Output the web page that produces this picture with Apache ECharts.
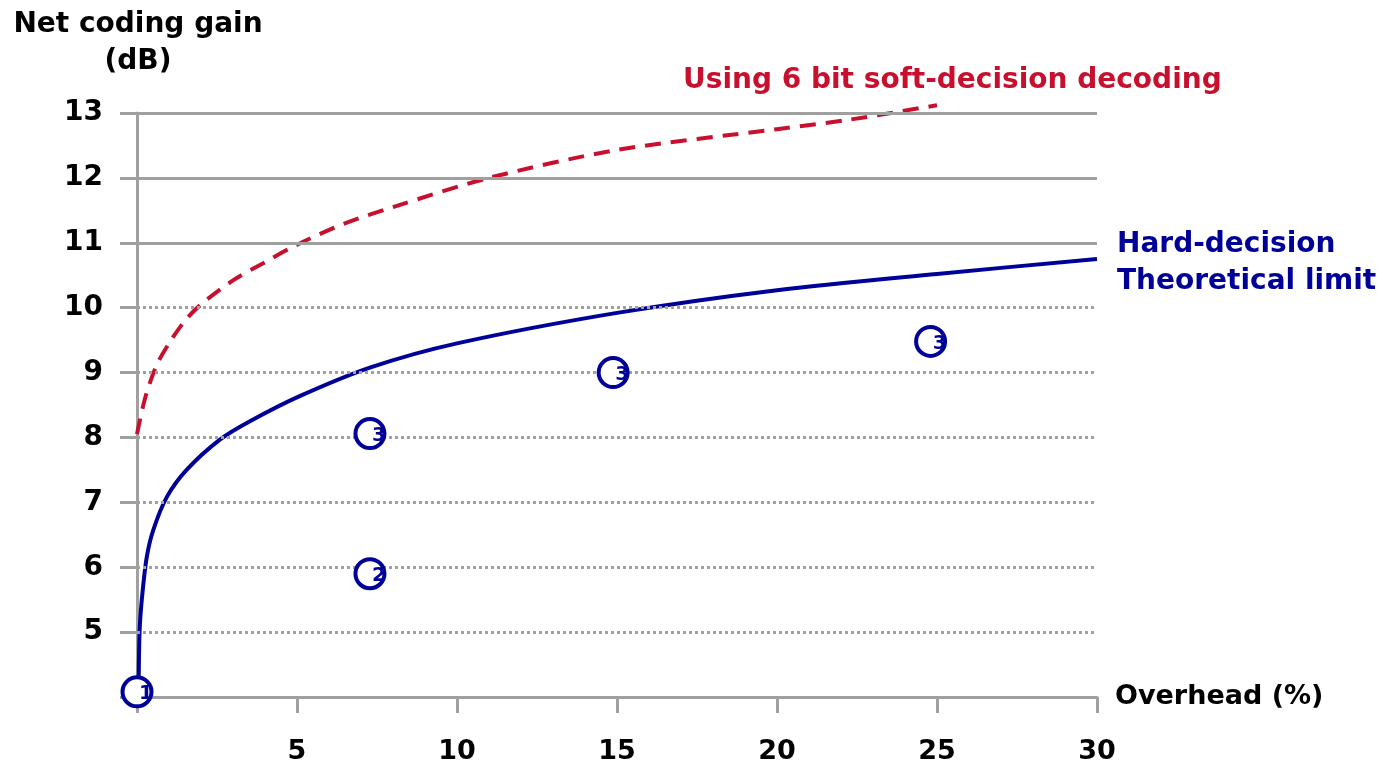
<!DOCTYPE html>
<html>
<head>
<meta charset="utf-8">
<script src="https://cdn.jsdelivr.net/npm/echarts@6/dist/echarts.min.js"></script>
<style>
html,body{margin:0;padding:0;background:#fff;}
#chart{width:1385px;height:765px;}
</style>
</head>
<body>
<div id="chart"></div>
<script>
// ---- data ----
const xTicks = [0, 5, 10, 15, 20, 25, 30];
const yTicks = [4, 5, 6, 7, 8, 9, 10, 11, 12, 13];
const solidGridValues = [11, 12, 13];
const dottedGridValues = [5, 6, 7, 8, 9, 10];

const softX = [0, 0.25, 0.6, 1.0, 1.5, 2.0, 3.0, 4.0, 5.0, 6.5, 8, 11, 15, 20, 22.3, 25];
const softY = [8.05, 8.6, 9.1, 9.45, 9.8, 10.05, 10.42, 10.7, 10.97, 11.3, 11.55, 12.0, 12.43, 12.75, 12.9, 13.12];

const hardX = [0.05, 0.08, 0.15, 0.3, 0.5, 0.93, 1.55, 2.6, 3.53, 5.1, 7.3, 10, 15, 20, 25, 30];
const hardY = [4.1, 5.0, 5.5, 6.14, 6.56, 7.08, 7.5, 7.97, 8.25, 8.64, 9.08, 9.45, 9.92, 10.27, 10.52, 10.75];

const codeX = [0, 7.28, 7.28, 14.88, 24.8];
const codeY = [4.08, 5.9, 8.06, 9.0, 9.48];
const codeLabels = ['1', '2', '3', '3', '3'];

const yTitle = 'Net coding gain\n(dB)';
const xTitle = 'Overhead (%)';
const softLabel = 'Using 6 bit soft-decision decoding';
const hardLabel = 'Hard-decision\nTheoretical limit';

// ---- styles ----
const GRAY = '#a0a0a0';
const BLUE = '#000099';
const RED = '#c8102e';
const FONT = '"DejaVu Sans", Verdana, sans-serif';

const zip = (xs, ys) => xs.map((x, i) => [x, ys[i]]);

const gridLines = solidGridValues.map(v => ({ yAxis: v, lineStyle: { type: 'solid', width: 3, color: GRAY } }))
  .concat(dottedGridValues.map(v => ({ yAxis: v, lineStyle: { type: [3, 3], width: 3, color: GRAY } })));

const chart = echarts.init(document.getElementById('chart'), null, { renderer: 'canvas' });
chart.setOption({
  animation: false,
  backgroundColor: '#fff',
  grid: { left: 137, right: 288, top: 113, bottom: 67, containLabel: false },
  xAxis: {
    type: 'value', min: xTicks[0], max: xTicks[xTicks.length - 1], interval: 5,
    name: xTitle, nameLocation: 'end', nameGap: 18,
    nameTextStyle: { fontFamily: FONT, fontWeight: 'bold', fontSize: 27, color: '#000', verticalAlign: 'middle', align: 'left' },
    axisLine: { show: true, lineStyle: { color: GRAY, width: 3 } },
    axisTick: { show: true, length: 16, inside: false, lineStyle: { color: GRAY, width: 3 } },
    axisLabel: {
      margin: 41, fontFamily: FONT, fontWeight: 'bold', fontSize: 27, color: '#000',
      formatter: v => (v === 0 ? '' : String(v))
    },
    splitLine: { show: false }
  },
  yAxis: {
    type: 'value', min: yTicks[0], max: yTicks[yTicks.length - 1], interval: 1,
    axisLine: { show: true, lineStyle: { color: GRAY, width: 3 } },
    axisTick: { show: true, length: 17, lineStyle: { color: GRAY, width: 3 } },
    axisLabel: {
      margin: 34, fontFamily: FONT, fontWeight: 'bold', fontSize: 28, color: '#000',
      formatter: v => (v === yTicks[0] ? '' : String(v))
    },
    splitLine: { show: false }
  },
  graphic: [
    {
      type: 'text', x: 138, y: 6, z: 10,
      style: { text: yTitle, fill: '#000', font: 'bold 28px ' + FONT, textAlign: 'center', lineHeight: 37 }
    },
    {
      type: 'text', x: 683, y: 67, z: 10,
      style: { text: softLabel, fill: RED, font: 'bold 28px ' + FONT, textAlign: 'left' }
    },
    {
      type: 'text', x: 1117, y: 226, z: 10,
      style: { text: hardLabel, fill: BLUE, font: 'bold 28px ' + FONT, textAlign: 'left', lineHeight: 37 }
    }
  ],
  series: [
    {
      name: 'grid', type: 'line', data: [], silent: true,
      markLine: {
        silent: true, symbol: 'none', label: { show: false }, animation: false,
        data: gridLines.concat([[
          { coord: [30, 12.86], lineStyle: { type: 'solid', width: 3, color: GRAY } },
          { coord: [30, 3.77] }
        ]])
      }
    },
    {
      name: 'soft', type: 'line', data: zip(softX, softY), smooth: 0.3,
      showSymbol: false, clip: false, z: 4,
      lineStyle: { color: RED, width: 4, type: [16, 10] }
    },
    {
      name: 'hard', type: 'line', data: zip(hardX, hardY), smooth: 0.3,
      showSymbol: false, clip: false, z: 4,
      lineStyle: { color: BLUE, width: 4 }
    },
    {
      name: 'codes', type: 'scatter', data: zip(codeX, codeY), symbol: 'circle', symbolSize: 29,
      clip: false, z: 6,
      itemStyle: { color: '#fff', borderColor: BLUE, borderWidth: 4, opacity: 1 },
      label: {
        show: true, position: 'inside', offset: [9, 2],
        formatter: p => codeLabels[p.dataIndex],
        fontFamily: FONT, fontWeight: 'bold', fontSize: 20, color: BLUE
      }
    }
  ]
});
</script>
</body>
</html>
